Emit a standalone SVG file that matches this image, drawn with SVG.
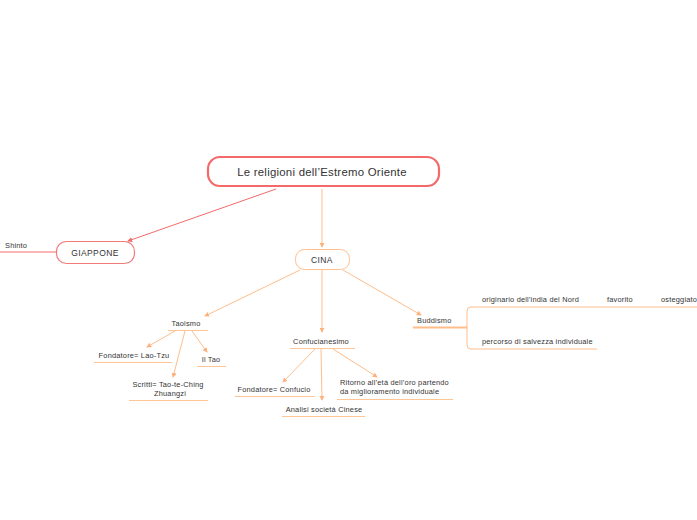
<svg xmlns="http://www.w3.org/2000/svg" width="697" height="520" viewBox="0 0 697 520">
<style>
text{font-family:"Liberation Sans",Arial,sans-serif;fill:#333;}
.s{font-size:7.4px;letter-spacing:0.2px;}
.red{stroke:#f46a6a;fill:none;}
.or{stroke:#ffbd8a;fill:none;}
.ul{stroke:#ffc594;stroke-width:1;fill:none;}
</style>
<defs>
<marker id="ar" viewBox="0 0 6 6" refX="5" refY="3" markerWidth="5" markerHeight="5" orient="auto"><path d="M0,0 L6,3 L0,6 z" fill="#f46a6a"/></marker>
<marker id="ao" viewBox="0 0 6 6" refX="5" refY="3" markerWidth="5" markerHeight="5" orient="auto"><path d="M0,0 L6,3 L0,6 z" fill="#ffb07a"/></marker>
</defs>
<rect width="697" height="520" fill="#fff"/>
<g id="connectors">
<path class="red" stroke-width="1" d="M276,189 L128,241" marker-end="url(#ar)"/>
<path class="red" stroke-width="1" d="M56,252 L0,252"/>
<path class="or" stroke-width="1" d="M322,189 L322,247" marker-end="url(#ao)"/>
<path class="or" stroke-width="1" d="M300,270 L205,316" marker-end="url(#ao)"/>
<path class="or" stroke-width="1" d="M322,270 L322,332" marker-end="url(#ao)"/>
<path class="or" stroke-width="1" d="M343,270 L421,315" marker-end="url(#ao)"/>
<path class="or" stroke-width="1" d="M175,331 L147,347" marker-end="url(#ao)"/>
<path class="or" stroke-width="1" d="M185,331 L173,377" marker-end="url(#ao)"/>
<path class="or" stroke-width="1" d="M192,331 L207,352" marker-end="url(#ao)"/>
<path class="or" stroke-width="1" d="M315,349 L283,382" marker-end="url(#ao)"/>
<path class="or" stroke-width="1" d="M321,349 L322,400" marker-end="url(#ao)"/>
<path class="or" stroke-width="1" d="M333,349 L377,377" marker-end="url(#ao)"/>
<path class="or" stroke-width="1" d="M467,328 L467,311 Q467,307 471,307 L697,307"/>
<path class="or" stroke-width="1" d="M467,328 L467,345 Q467,349 471,349 L597,349"/>
</g>
<g id="root">
<rect x="208" y="157" width="231" height="29" rx="12" fill="#fff" stroke="#f46a6a" stroke-width="2.2"/>
<text x="322" y="176" font-size="11.4" text-anchor="middle" letter-spacing="0.25">Le religioni dell’Estremo Oriente</text>
</g>
<g id="giappone">
<rect x="56.5" y="241.5" width="78" height="22" rx="10" fill="#fff" stroke="#f47a7a" stroke-width="1.2"/>
<text x="95" y="256" font-size="8.5" text-anchor="middle" letter-spacing="0.4">GIAPPONE</text>
</g>
<g id="shinto"><text class="s" x="5" y="248">Shinto</text></g>
<g id="cina">
<rect x="295.5" y="249.5" width="54" height="20" rx="9" fill="#fff" stroke="#ffc08e" stroke-width="1"/>
<text x="322" y="263" font-size="8.5" text-anchor="middle" letter-spacing="0.4">CINA</text>
</g>
<g id="taoismo">
<text class="s" x="186" y="326" text-anchor="middle">Taoismo</text>
<path class="ul" d="M168,330.5 H208"/>
</g>
<g id="fondatore-lao">
<text class="s" x="134" y="358" text-anchor="middle">Fondatore= Lao-Tzu</text>
<path class="ul" d="M94,362.5 H172"/>
</g>
<g id="il-tao">
<text class="s" x="211" y="362" text-anchor="middle">Il Tao</text>
<path class="ul" d="M197,366.5 H226"/>
</g>
<g id="scritti">
<text class="s" x="168" y="387" text-anchor="middle">Scritti= Tao-te-Ching</text>
<text class="s" x="170" y="396" text-anchor="middle">Zhuangzi</text>
<path class="ul" d="M129,400.5 H208"/>
</g>
<g id="confucianesimo">
<text class="s" x="321" y="344" text-anchor="middle">Confucianesimo</text>
<path class="ul" d="M290,348.5 H355"/>
</g>
<g id="fondatore-confucio">
<text class="s" x="274" y="392" text-anchor="middle">Fondatore= Confucio</text>
<path class="ul" d="M235,396.5 H315"/>
</g>
<g id="ritorno">
<text class="s" x="340" y="385">Ritorno all’età dell’oro partendo</text>
<text class="s" x="340" y="394">da miglioramento individuale</text>
<path class="ul" d="M337,399.5 H453"/>
</g>
<g id="analisi">
<text class="s" x="324" y="412" text-anchor="middle">Analisi società Cinese</text>
<path class="ul" d="M282,416.5 H365"/>
</g>
<g id="buddismo">
<text class="s" x="417" y="323">Buddismo</text>
<path stroke="#ffbd8a" stroke-width="2" fill="none" d="M413,327.5 H467"/>
</g>
<g id="originario"><text class="s" x="482" y="302">originario dell'india del Nord</text></g>
<g id="favorito"><text class="s" x="607" y="302">favorito</text></g>
<g id="osteggiato"><text class="s" x="661" y="302">osteggiato</text></g>
<g id="percorso"><text class="s" x="482" y="344">percorso di salvezza individuale</text></g>
</svg>
